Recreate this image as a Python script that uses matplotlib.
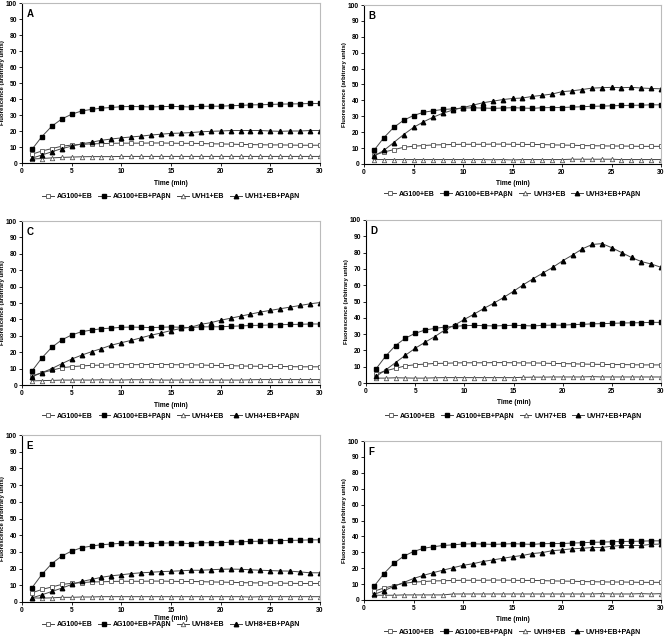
import matplotlib
matplotlib.use("Agg")
import matplotlib.pyplot as plt

plt.rcParams["font.family"] = ["Liberation Sans", "DejaVu Sans"]
plt.rcParams["font.weight"] = "bold"

W, H = 664, 636

# tiempo (min)
tiempo = list(range(1, 31))

# controles (iguales en todos los paneles)
ag100_eb = [5.5, 7.5, 9, 10.5, 11.2, 11.6, 12, 12.1, 12.3, 12.4, 12.4, 12.4, 12.5, 12.5, 12.4,
            12.3, 12.3, 12.2, 12.0, 11.9, 11.8, 11.6, 11.5, 11.4, 11.3, 11.3, 11.2, 11.1, 11.1, 11.1]
ag100_eb_pa = [8.5, 16.5, 23, 27.5, 30.5, 32.5, 33.5, 34.3, 34.7, 35.2, 35.3, 35.2, 35, 35.2, 35.4,
               35.2, 35, 35.4, 35.5, 35.5, 35.8, 36, 36.3, 36.4, 36.6, 36.8, 36.9, 37, 37.2, 37.2]

# mutantes
uvh1_eb = [2.5, 2.8, 3.2, 3.5, 3.7, 3.9, 4, 4, 4, 4.1, 4.1, 4.1, 4.1, 4.1, 4.1,
           4.1, 4.1, 4.1, 4.1, 4.1, 4.1, 4.1, 4.1, 4.1, 4.1, 4.1, 4.1, 4.1, 4.1, 4.1]
uvh1_eb_pa = [3, 5, 7, 9, 10.5, 12, 13, 14.2, 15, 15.7, 16.3, 16.8, 17.5, 18, 18.5,
              18.7, 19, 19.5, 19.8, 20, 20.3, 20.3, 20.3, 20.3, 20, 19.8, 20, 20, 20.3, 20.3]
uvh3_eb = [2.8, 2.8, 2.8, 2.8, 2.8, 2.8, 2.8, 2.8, 2.8, 2.8, 2.8, 2.8, 2.7, 2.8, 2.6,
           2.8, 2.8, 2.8, 2.8, 2.8, 3, 3, 3, 3, 3, 2.8, 2.8, 2.8, 2.8, 2.8]
uvh3_eb_pa = [5, 8.5, 13.5, 18.5, 23, 26.5, 29.5, 32, 34, 35.5, 37, 38.5, 39.5, 40.5, 41.2,
              41.5, 42.5, 43.2, 44, 45.5, 46, 46.8, 47.7, 48, 48.2, 48, 48.2, 47.8, 47.5, 47.3]
uvh4_eb = [2.5, 2.7, 2.8, 3, 3, 3, 3, 3.2, 3, 3, 3.2, 3.2, 3.2, 3, 3,
           3, 3, 3, 3, 3, 3, 3, 3.2, 3.3, 3.3, 3.3, 3.3, 3.3, 3.3, 3.3]
uvh4_eb_pa = [5, 7.5, 10, 13, 15.8, 18.2, 20.3, 22.2, 24.3, 25.8, 27.2, 28.8, 30.4, 31.7, 33.2,
              34.5, 35.2, 37, 38, 39.5, 40.7, 42, 43.2, 44.5, 45.5, 46.5, 47.5, 48.5, 49.5, 50.3]
uvh7_eb = [3, 3, 3.2, 3.1, 3, 3, 3.2, 3.3, 3.3, 3.3, 3.3, 3.3, 3.3, 3.3, 3.3,
           3.5, 3.6, 3.6, 3.7, 3.7, 3.7, 3.7, 3.9, 3.7, 3.7, 3.7, 3.7, 3.7, 3.7, 3.7]
uvh7_eb_pa = [4, 8, 12.5, 17, 21.3, 25, 28.5, 32.5, 35.5, 39, 42.3, 45.8, 49, 52.5, 56.3,
              60.3, 64, 67.5, 71, 75, 78.5, 82.3, 85, 85.5, 83, 80, 77, 74.5, 73, 71]
uvh8_eb = [2.5, 2.3, 2.5, 2.8, 2.8, 3, 3, 3.2, 3.2, 3.2, 3.2, 3.2, 3.2, 3.2, 3.2,
           3.2, 3.2, 3.2, 3.2, 3.2, 3.2, 3.2, 3, 3.2, 3.2, 3.2, 3.2, 3.2, 3.2, 3.2]
uvh8_eb_pa = [2.5, 4.3, 6.3, 8.3, 10.5, 12.3, 13.5, 14.8, 15.7, 16.3, 17, 17.5, 17.8, 18.2, 18.4,
              18.7, 19, 19, 19.3, 19.6, 19.7, 19.6, 19.3, 19, 18.8, 18.6, 18.5, 18, 17.5, 17.5]
uvh9_eb = [3, 3, 3, 3.2, 3.2, 3.2, 3.2, 3.2, 3.8, 3.8, 3.8, 3.8, 3.8, 3.8, 3.8,
           3.8, 3.8, 3.8, 3.8, 3.8, 3.8, 3.8, 3.8, 4, 3.8, 3.8, 3.8, 4, 3.8, 4]
uvh9_eb_pa = [3.5, 5.8, 8.5, 11, 13.5, 15.5, 17.2, 18.8, 20.3, 21.8, 22.8, 24.2, 25.2, 26.2, 27.2,
              28, 29.2, 29.8, 31, 31.5, 32.2, 32.5, 33, 33, 33.8, 34.3, 34.3, 34.3, 35, 35.2]

paneles = ["A", "B", "C", "D", "E", "F"]
cepas = ["UVH1", "UVH3", "UVH4", "UVH7", "UVH8", "UVH9"]
mut_eb = [uvh1_eb, uvh3_eb, uvh4_eb, uvh7_eb, uvh8_eb, uvh9_eb]
mut_eb_pa = [uvh1_eb_pa, uvh3_eb_pa, uvh4_eb_pa, uvh7_eb_pa, uvh8_eb_pa, uvh9_eb_pa]

# posiciones en pixeles: izq, arriba, der, abajo, y leyenda, pad etiqueta x
cajas = [(22, 3, 320, 163, 197, 4), (364, 5, 661, 164, 194, 3),
         (22, 221, 320, 385, 416, 4), (366, 220, 661, 383, 416, 3),
         (22, 435, 320, 602, 625, 1), (364, 441, 661, 600, 632, 3)]

fig = plt.figure(figsize=(W / 100, H / 100), dpi=100)

for i in range(6):
    l, t, r, b, yl, xpad = cajas[i]
    ax = fig.add_axes([l / W, 1 - b / H, (r - l) / W, (b - t) / H])
    kw = dict(color="#444444", lw=0.7, ms=3.2)
    h1, = ax.plot(tiempo, ag100_eb, marker="s", mfc="white", mec="#555555", mew=0.6, **kw)
    h2, = ax.plot(tiempo, ag100_eb_pa, marker="s", mfc="black", mec="black", **kw)
    h3, = ax.plot(tiempo, mut_eb[i], marker="^", mfc="white", mec="#555555", mew=0.6, **kw)
    h4, = ax.plot(tiempo, mut_eb_pa[i], marker="^", mfc="black", mec="black", **kw)

    ax.set_xlim(0, 30)
    ax.set_ylim(0, 100)
    ax.set_xticks([0, 5, 10, 15, 20, 25, 30])
    ax.set_yticks(range(0, 101, 10))
    ax.tick_params(labelsize=4.8, length=2, width=0.6, pad=1.5, direction="out")
    ax.spines["top"].set_color("#bbbbbb")
    ax.spines["right"].set_color("#bbbbbb")
    ax.spines["left"].set_linewidth(0.8)
    ax.spines["bottom"].set_linewidth(0.8)
    ax.set_xlabel("Time (min)", fontsize=4.8, fontweight="bold", labelpad=xpad)
    ax.set_ylabel("Fluorescence (arbitrary units)", fontsize=4.3, fontweight="bold", labelpad=1)
    ax.text(0.015, 0.965, paneles[i], transform=ax.transAxes, fontsize=7,
            fontweight="bold", va="top", ha="left")

    c = cepas[i]
    fig.legend([h1, h2, h3, h4],
               ["AG100+EB", "AG100+EB+PAβN", c + "+EB", c + "+EB+PAβN"],
               loc="center", bbox_to_anchor=((l + r) / 2 / W, 1 - yl / H),
               ncol=4, frameon=False, fontsize=5, handlelength=1.7,
               handletextpad=0.4, columnspacing=0.8, borderpad=0)

fig.savefig("out.png", dpi=100)
